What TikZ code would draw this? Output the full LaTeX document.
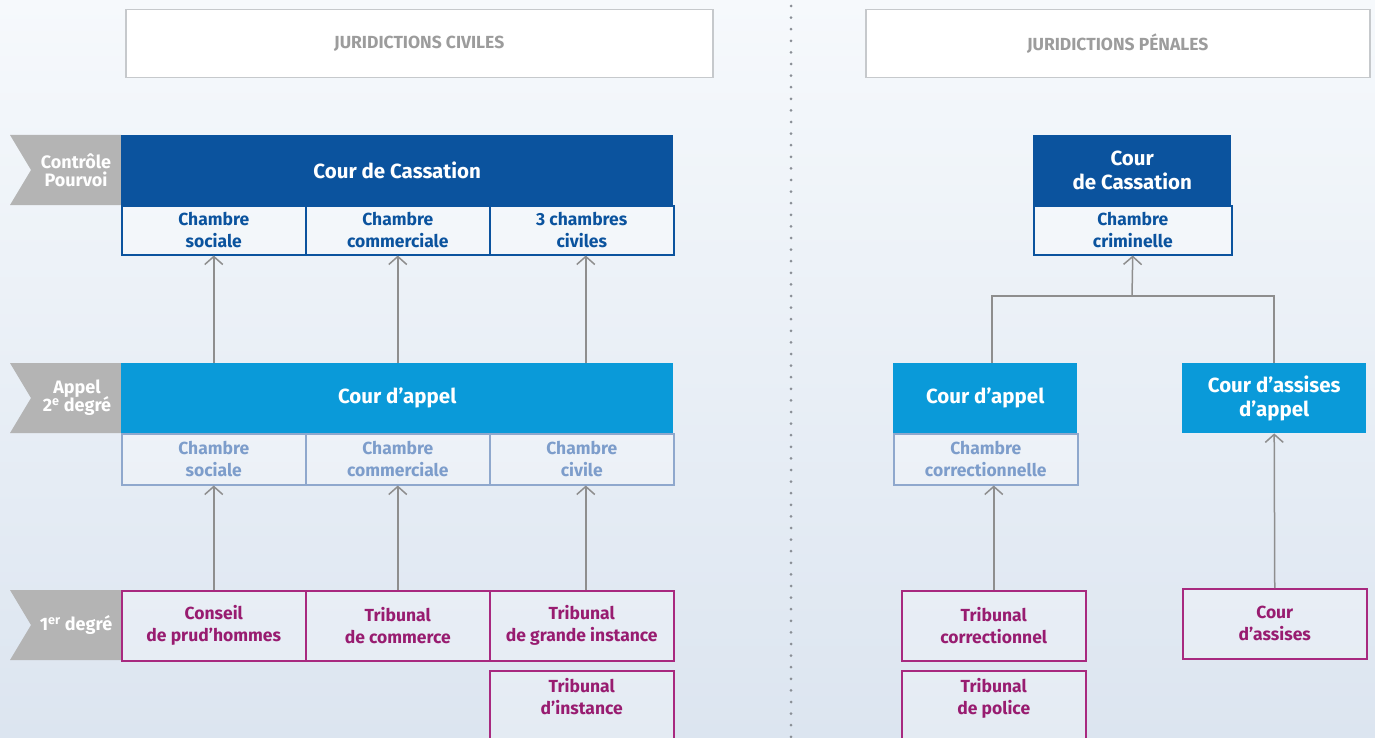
\documentclass[tikz,border=0pt]{standalone}
\usepackage{fontspec}
\setmainfont{Fira Sans}
\usetikzlibrary{arrows.meta,calc}

\definecolor{bgtop}{HTML}{F6F9FC}
\definecolor{bgbot}{HTML}{DCE5F0}
\definecolor{cassblue}{HTML}{0B539E}
\definecolor{appelblue}{HTML}{0A9AD9}
\definecolor{mutedblue}{HTML}{7D9DCB}
\definecolor{mutedline}{HTML}{8FA8CD}
\definecolor{firstline}{HTML}{A8297F}
\definecolor{firsttext}{HTML}{981C70}
\definecolor{levelgray}{HTML}{B4B4B4}
\definecolor{headline}{HTML}{C6C9CC}
\definecolor{headtext}{HTML}{9C9C9C}
\definecolor{linkgray}{HTML}{8E8E8E}
\definecolor{dotgray}{HTML}{8A8F96}

\tikzset{
  box/.style={rectangle, anchor=north west, inner sep=0pt, align=center, font=\bfseries},
  cassbox/.style={box, fill=cassblue, text=white, font=\bfseries\fontsize{20.5}{24}\selectfont},
  appelbox/.style={box, fill=appelblue, text=white, font=\bfseries\fontsize{20.5}{24}\selectfont},
  cassch/.style={box, draw=cassblue, line width=1.5pt, fill=white, fill opacity=0.35, text opacity=1, text=cassblue, font=\bfseries\fontsize{17.5}{22}\selectfont},
  appelch/.style={box, draw=mutedline, line width=1.5pt, fill=white, fill opacity=0.3, text opacity=1, text=mutedblue, font=\bfseries\fontsize{17.5}{22}\selectfont},
  firstbox/.style={box, draw=firstline, line width=1.5pt, fill=white, fill opacity=0.25, text opacity=1, text=firsttext, font=\bfseries\fontsize{17.5}{22}\selectfont},
  headbox/.style={box, draw=headline, line width=1.5pt, fill=white, text=headtext, font=\bfseries\fontsize{17.5}{20}\selectfont},
  leveltext/.style={text=white, align=center, font=\bfseries\fontsize{18}{21}\selectfont},
  conn/.style={draw=linkgray, line width=1.5pt},
  arr/.style={conn, -{Straight Barb[length=8pt,width=18pt,line width=1.5pt]}},
}

\begin{document}
\begin{tikzpicture}[x=1pt,y=-1pt]
  % page and background
  \useasboundingbox (0,0) rectangle (1375,738);
  \shade[top color=bgtop, bottom color=bgbot] (0,0) rectangle (1375,738);
  \clip (0,0) rectangle (1375,738);

  % column separator
  \draw[dotgray, line width=3pt, line cap=round, dash pattern=on 0pt off 11.6pt] (791,6) -- (791,738);

  % column headers
  \node[headbox, minimum width=587pt, minimum height=68pt] (head-civ) at (125,9) {JURIDICTIONS CIVILES};
  \node[headbox, minimum width=504pt, minimum height=68pt] (head-pen) at (865,9) {JURIDICTIONS PÉNALES};

  % level tabs
  \fill[levelgray] (10,135) -- (121,135) -- (121,205) -- (10,205) -- (31,170) -- cycle;
  \node[leveltext] (lvl-ctrl) at (76,170) {Contrôle\\[-3pt]Pourvoi};
  \fill[levelgray] (10,363) -- (121,363) -- (121,433) -- (10,433) -- (31,398) -- cycle;
  \node[leveltext] (lvl-app) at (77,398) {Appel\\[-3pt]2\textsuperscript{e} degré};
  \fill[levelgray] (10,590) -- (121,590) -- (121,660) -- (10,660) -- (31,625) -- cycle;
  \node[leveltext] (lvl-first) at (76,625) {1\textsuperscript{er} degré};

  % civil jurisdictions
  \node[cassbox, minimum width=552pt, minimum height=70pt] (civ-cass) at (121,135) {Cour de Cassation};
  \node[cassch, minimum width=184pt, minimum height=49pt] (civ-ch1) at (121,205) {Chambre\\sociale};
  \node[cassch, minimum width=184pt, minimum height=49pt] (civ-ch2) at (305,205) {Chambre\\commerciale};
  \node[cassch, minimum width=184pt, minimum height=49pt] (civ-ch3) at (489,205) {3 chambres\\civiles};

  \node[appelbox, minimum width=552pt, minimum height=70pt] (civ-appel) at (121,363) {Cour d’appel};
  \node[appelch, minimum width=184pt, minimum height=51pt] (civ-ap1) at (121,433) {Chambre\\sociale};
  \node[appelch, minimum width=184pt, minimum height=51pt] (civ-ap2) at (305,433) {Chambre\\commerciale};
  \node[appelch, minimum width=184pt, minimum height=51pt] (civ-ap3) at (489,433) {Chambre\\civile};

  \node[firstbox, minimum width=184pt, minimum height=70pt] (civ-cph) at (121,590) {Conseil\\de prud’hommes};
  \node[firstbox, minimum width=184pt, minimum height=70pt] (civ-tc) at (305,590) {Tribunal\\de commerce};
  \node[firstbox, minimum width=184pt, minimum height=70pt] (civ-tgi) at (489,590) {Tribunal\\de grande instance};
  \node[firstbox, minimum width=184pt, minimum height=88pt] (civ-ti) at (489,670) {Tribunal\\d’instance\\[14pt]};

  \draw[arr] (civ-appel.north -| civ-ch1) -- (civ-ch1.south);
  \draw[arr] (civ-appel.north -| civ-ch2) -- (civ-ch2.south);
  \draw[arr] ([xshift=4pt]civ-appel.north -| civ-ch3) -- ([xshift=4pt]civ-ch3.south);
  \draw[arr] (civ-cph.north) -- (civ-ap1.south);
  \draw[arr] (civ-tc.north) -- (civ-ap2.south);
  \draw[arr] ([xshift=4pt]civ-tgi.north) -- ([xshift=4pt]civ-ap3.south);

  % criminal jurisdictions
  \node[cassbox, minimum width=198pt, minimum height=70pt] (pen-cass) at (1033,135) {Cour\\de Cassation};
  \node[cassch, minimum width=198pt, minimum height=49pt] (pen-crim) at (1033,205) {Chambre\\criminelle};

  \node[appelbox, minimum width=184pt, minimum height=70pt] (pen-appel) at (893,363) {Cour d’appel};
  \node[appelch, minimum width=184pt, minimum height=51pt] (pen-corr) at (893,433) {Chambre\\correctionnelle};
  \node[appelbox, minimum width=184pt, minimum height=70pt] (pen-assap) at (1182,363) {Cour d’assises\\d’appel};

  \node[firstbox, minimum width=184pt, minimum height=70pt] (pen-tcorr) at (901,590) {Tribunal\\correctionnel};
  \node[firstbox, minimum width=184pt, minimum height=88pt] (pen-tpol) at (901,670) {Tribunal\\de police\\[14pt]};
  \node[firstbox, minimum width=184pt, minimum height=70pt] (pen-assises) at (1182,588) {Cour\\d’assises};

  \coordinate (pen-join) at (1132,296);
  \draw[conn] ([xshift=-2pt]pen-appel.north -| pen-tcorr) |- (pen-join) -| (pen-assap.north);
  \draw[arr] (pen-join) -- (pen-crim.south);
  \draw[arr] (pen-tcorr.north) -- (pen-tcorr.north |- pen-corr.south);
  \draw[arr] (pen-assises.north) -- (pen-assap.south);
\end{tikzpicture}
\end{document}
